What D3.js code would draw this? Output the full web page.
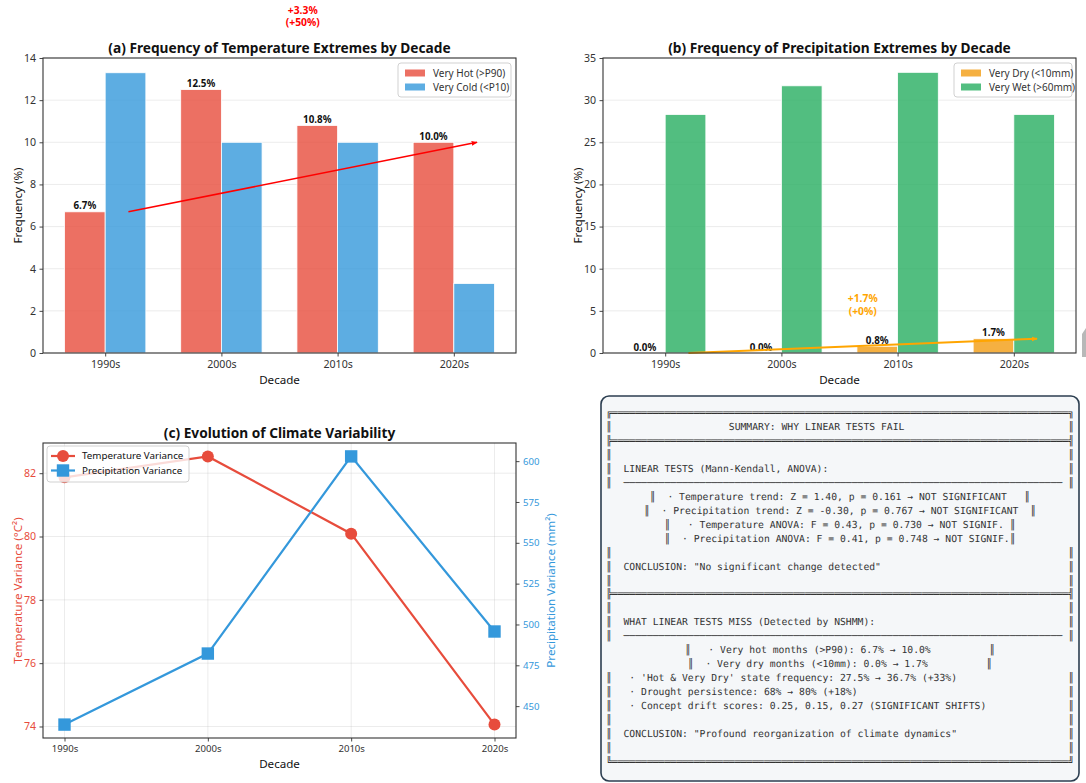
<!DOCTYPE html>
<html>
<head>
<meta charset="utf-8">
<script src="https://cdn.jsdelivr.net/npm/d3@7"></script>
<style>
  body { margin: 0; background: #fff; }
  svg { display: block; -webkit-font-smoothing: antialiased; }
  .mono { white-space: pre; text-rendering: geometricPrecision; }
</style>
</head>
<body>
<svg id="fig" width="1086" height="783"></svg>
<script>
// ---- data ----
const decades = ["1990s", "2000s", "2010s", "2020s"];
const veryHot = [6.7, 12.5, 10.8, 10.0];
const veryCold = [13.3, 10.0, 10.0, 3.3];
const veryDry = [0.0, 0.0, 0.8, 1.7];
const veryWet = [28.3, 31.7, 33.3, 28.3];
const tempVariance = [81.87, 82.53, 80.09, 74.06];
const precipVariance = [438.7, 482.2, 602.9, 495.7];
const tempTicksA = [0, 2, 4, 6, 8, 10, 12, 14];
const precipTicksB = [0, 5, 10, 15, 20, 25, 30, 35];
const tempVarTicks = [74, 76, 78, 80, 82];
const precipVarTicks = [450, 475, 500, 525, 550, 575, 600];
const hotChange = ["+3.3%", "(+50%)"];
const dryChange = ["+1.7%", "(+0%)"];

// ---- summary panel text ----
const W = 78;
const boxRow = s => "║" + s.padEnd(W) + "║";
const rule = (l, r) => l + "═".repeat(W) + r;
const summaryLines = [
  rule("╔", "╗"),
  boxRow(" ".repeat(20) + "SUMMARY: WHY LINEAR TESTS FAIL"),
  rule("╠", "╣"),
  boxRow(""),
  boxRow("  LINEAR TESTS (Mann-Kendall, ANOVA):"),
  boxRow("  " + "─".repeat(75)),
  "║  · Temperature trend: Z = 1.40, p = 0.161 → NOT SIGNIFICANT   ║",
  "║  · Precipitation trend: Z = -0.30, p = 0.767 → NOT SIGNIFICANT  ║",
  "║   · Temperature ANOVA: F = 0.43, p = 0.730 → NOT SIGNIF. ║",
  "║  · Precipitation ANOVA: F = 0.41, p = 0.748 → NOT SIGNIF.║",
  boxRow(""),
  boxRow("  CONCLUSION: \"No significant change detected\""),
  boxRow(""),
  rule("╠", "╣"),
  boxRow(""),
  boxRow("  WHAT LINEAR TESTS MISS (Detected by NSHMM):"),
  boxRow("  " + "─".repeat(75)),
  "║   · Very hot months (>P90): 6.7% → 10.0%          ║",
  "║  · Very dry months (<10mm): 0.0% → 1.7%          ║",
  boxRow("   · 'Hot & Very Dry' state frequency: 27.5% → 36.7% (+33%)"),
  boxRow("   · Drought persistence: 68% → 80% (+18%)"),
  boxRow("   · Concept drift scores: 0.25, 0.15, 0.27 (SIGNIFICANT SHIFTS)"),
  boxRow(""),
  boxRow("  CONCLUSION: \"Profound reorganization of climate dynamics\""),
  boxRow(""),
  rule("╚", "╝")
];

// ---- style ----
const FONT = '"Noto Sans", "DejaVu Sans", sans-serif';
const MONO = '"DejaVu Sans Mono", monospace';
const INK = "#333";
const GRID = "rgba(176,176,176,0.3)";
const RED = "#e74c3c", BLUE = "#3498db", ORANGE = "#f39c12", GREEN = "#27ae60";
const FS = { title: 13.7, label: 11.6, tick: 10.6, legend: 10, value: 9.8, annot: 10.3 };

const fig = d3.select("#fig").attr("font-family", FONT);
const defs = fig.append("defs");
function arrowHead(id, color) {
  defs.append("marker").attr("id", id)
    .attr("viewBox", "0 0 10 10").attr("refX", 9).attr("refY", 5)
    .attr("markerWidth", 6).attr("markerHeight", 6)
    .attr("markerUnits", "userSpaceOnUse")
    .attr("orient", "auto")
    .append("path").attr("d", "M0,1 L10,5 L0,9 Z").attr("fill", color);
}
arrowHead("arrRed", "red");
arrowHead("arrOrange", "orange");

function styleAxis(sel, fs, color) {
  sel.select(".domain").remove();
  sel.selectAll(".tick line").attr("stroke", INK).attr("stroke-width", 0.9);
  sel.selectAll(".tick text").attr("fill", color || INK)
    .attr("font-size", fs).attr("font-family", FONT);
}

function frame(g, l, r, t, b) {
  g.append("rect").attr("x", l).attr("y", t).attr("width", r - l).attr("height", b - t)
    .attr("fill", "none").attr("stroke", INK).attr("stroke-width", 1.1);
}

function patchLegend(g, x0, y0, w, items) {
  const lg = g.append("g");
  lg.append("rect").attr("x", x0).attr("y", y0).attr("width", w).attr("height", 34)
    .attr("rx", 3).attr("fill", "#fff").attr("fill-opacity", 0.8)
    .attr("stroke", "#ccc").attr("stroke-width", 0.9);
  items.forEach((it, i) => {
    const yy = y0 + 10 + i * 14;
    lg.append("rect").attr("x", x0 + 7).attr("y", yy - 3.5).attr("width", 20).attr("height", 7)
      .attr("fill", it.color).attr("fill-opacity", 0.8);
    lg.append("text").attr("x", x0 + 35).attr("y", yy + 3.5)
      .attr("font-size", FS.legend).attr("fill", INK).text(it.label);
  });
}

// ---- grouped bar panels ----
function barPanel(o) {
  const g = fig.append("g");
  const x = d3.scaleLinear().domain([-0.535, 3.535]).range([o.l, o.r]);
  const y = d3.scaleLinear().domain([0, o.yMax]).range([o.b, o.t]);
  const bw = 0.35;

  g.append("g").selectAll("line").data(o.yTicks).join("line")
    .attr("x1", o.l).attr("x2", o.r).attr("y1", d => y(d)).attr("y2", d => y(d))
    .attr("stroke", GRID).attr("stroke-width", 0.8);

  g.append("g").selectAll("rect").data(o.seriesA).join("rect")
    .attr("x", (d, i) => x(i - bw)).attr("width", x(bw) - x(0))
    .attr("y", d => y(d)).attr("height", d => y(0) - y(d))
    .attr("fill", o.colorA).attr("fill-opacity", 0.8)
    .attr("stroke", "#fff").attr("stroke-width", 0.8);
  g.append("g").selectAll("rect").data(o.seriesB).join("rect")
    .attr("x", (d, i) => x(i)).attr("width", x(bw) - x(0))
    .attr("y", d => y(d)).attr("height", d => y(0) - y(d))
    .attr("fill", o.colorB).attr("fill-opacity", 0.8)
    .attr("stroke", "#fff").attr("stroke-width", 0.8);

  g.append("g").selectAll("text").data(o.seriesA).join("text")
    .attr("x", (d, i) => x(i - bw / 2)).attr("y", d => y(d) - 2.5)
    .attr("text-anchor", "middle").attr("font-size", FS.value).attr("font-weight", "bold")
    .attr("fill", "#111").text(d => d.toFixed(1) + "%");

  // trend arrow from first to last decade
  g.append("line")
    .attr("x1", x(0.2)).attr("y1", y(o.seriesA[0]))
    .attr("x2", x(3.2)).attr("y2", y(o.seriesA[3]))
    .attr("stroke", o.arrowColor).attr("stroke-width", o.arrowWidth)
    .attr("marker-end", `url(#${o.arrowId})`);
  const ann = g.append("text").attr("x", x(1.7)).attr("y", y(o.annotY) - 2)
    .attr("text-anchor", "middle").attr("font-size", FS.annot).attr("font-weight", "bold")
    .attr("fill", o.arrowColor);
  ann.append("tspan").attr("x", x(1.7)).text(o.annot[0]);
  ann.append("tspan").attr("x", x(1.7)).attr("dy", 12.5).text(o.annot[1]);

  const ax = g.append("g").attr("transform", `translate(0,${o.b})`)
    .call(d3.axisBottom(x).tickValues([0, 1, 2, 3]).tickFormat(i => decades[i])
      .tickSize(3.5).tickPadding(4));
  styleAxis(ax, FS.tick);
  const ay = g.append("g").attr("transform", `translate(${o.l},0)`)
    .call(d3.axisLeft(y).tickValues(o.yTicks).tickFormat(d3.format("d"))
      .tickSize(3.5).tickPadding(3.5));
  styleAxis(ay, FS.tick);

  frame(g, o.l, o.r, o.t, o.b);

  const mid = (o.l + o.r) / 2;
  g.append("text").attr("x", mid).attr("y", o.t - 5.5).attr("text-anchor", "middle")
    .attr("font-size", FS.title).attr("font-weight", "bold").attr("fill", "#111").text(o.title);
  g.append("text").attr("x", mid).attr("y", o.b + 31).attr("text-anchor", "middle")
    .attr("font-size", FS.label).attr("fill", "#111").text("Decade");
  g.append("text").attr("transform", `translate(${o.l - 21},${(o.t + o.b) / 2}) rotate(-90)`)
    .attr("text-anchor", "middle").attr("font-size", FS.label).attr("fill", "#111")
    .text("Frequency (%)");

  patchLegend(g, o.legendX, o.t + 5, o.legendW, o.legend);
}

barPanel({
  l: 43, r: 516, t: 58, b: 353, yMax: 14, yTicks: tempTicksA,
  seriesA: veryHot, seriesB: veryCold, colorA: RED, colorB: BLUE,
  arrowColor: "red", arrowWidth: 1.6, arrowId: "arrRed",
  annot: hotChange, annotY: 16.0,
  title: "(a) Frequency of Temperature Extremes by Decade",
  legendX: 398, legendW: 113,
  legend: [{ label: "Very Hot (>P90)", color: RED }, { label: "Very Cold (<P10)", color: BLUE }]
});

barPanel({
  l: 603, r: 1076, t: 58, b: 353, yMax: 35, yTicks: precipTicksB,
  seriesA: veryDry, seriesB: veryWet, colorA: ORANGE, colorB: GREEN,
  arrowColor: "orange", arrowWidth: 2, arrowId: "arrOrange",
  annot: dryChange, annotY: 5.8,
  title: "(b) Frequency of Precipitation Extremes by Decade",
  legendX: 954, legendW: 118,
  legend: [{ label: "Very Dry (<10mm)", color: ORANGE }, { label: "Very Wet (>60mm)", color: GREEN }]
});

// ---- panel (c): variance lines on twin axes ----
(function () {
  const l = 43, r = 516, t = 443, b = 738;
  const g = fig.append("g");
  const x = d3.scaleLinear().domain([-0.15, 3.15]).range([l, r]);
  const te = d3.extent(tempVariance), tp = (te[1] - te[0]) * 0.05;
  const pe = d3.extent(precipVariance), pp = (pe[1] - pe[0]) * 0.05;
  const yT = d3.scaleLinear().domain([te[0] - tp, te[1] + tp]).range([b, t]);
  const yP = d3.scaleLinear().domain([pe[0] - pp, pe[1] + pp]).range([b, t]);

  const grid = g.append("g");
  grid.selectAll("line.h").data(tempVarTicks).join("line")
    .attr("x1", l).attr("x2", r).attr("y1", d => yT(d)).attr("y2", d => yT(d))
    .attr("stroke", GRID).attr("stroke-width", 0.8);
  grid.selectAll("line.v").data([0, 1, 2, 3]).join("line")
    .attr("y1", t).attr("y2", b).attr("x1", d => x(d)).attr("x2", d => x(d))
    .attr("stroke", GRID).attr("stroke-width", 0.8);

  const tempLine = d3.line().x((d, i) => x(i)).y(d => yT(d));
  const precLine = d3.line().x((d, i) => x(i)).y(d => yP(d));

  g.append("path").datum(tempVariance).attr("d", tempLine)
    .attr("fill", "none").attr("stroke", RED).attr("stroke-width", 2.2);
  g.append("g").selectAll("circle").data(tempVariance).join("circle")
    .attr("cx", (d, i) => x(i)).attr("cy", d => yT(d)).attr("r", 6).attr("fill", RED);

  g.append("path").datum(precipVariance).attr("d", precLine)
    .attr("fill", "none").attr("stroke", BLUE).attr("stroke-width", 2.2);
  g.append("g").selectAll("rect").data(precipVariance).join("rect")
    .attr("x", (d, i) => x(i) - 6.2).attr("y", d => yP(d) - 6.2)
    .attr("width", 12.4).attr("height", 12.4).attr("fill", BLUE);

  const ax = g.append("g").attr("transform", `translate(0,${b})`)
    .call(d3.axisBottom(x).tickValues([0, 1, 2, 3]).tickFormat(i => decades[i])
      .tickSize(3.5).tickPadding(4));
  styleAxis(ax, 9.6);
  const ayl = g.append("g").attr("transform", `translate(${l},0)`)
    .call(d3.axisLeft(yT).tickValues(tempVarTicks).tickFormat(d3.format("d"))
      .tickSize(3.5).tickPadding(3.5));
  styleAxis(ayl, FS.tick, RED);
  const ayr = g.append("g").attr("transform", `translate(${r},0)`)
    .call(d3.axisRight(yP).tickValues(precipVarTicks).tickFormat(d3.format("d"))
      .tickSize(3.5).tickPadding(3.5));
  styleAxis(ayr, 9.6, BLUE);

  frame(g, l, r, t, b);

  const mid = (l + r) / 2;
  g.append("text").attr("x", mid).attr("y", t - 5.5).attr("text-anchor", "middle")
    .attr("font-size", FS.title).attr("font-weight", "bold").attr("fill", "#111")
    .text("(c) Evolution of Climate Variability");
  g.append("text").attr("x", mid).attr("y", b + 30).attr("text-anchor", "middle")
    .attr("font-size", FS.label).attr("fill", "#111").text("Decade");
  g.append("text").attr("transform", `translate(${l - 21},${(t + b) / 2}) rotate(-90)`)
    .attr("text-anchor", "middle").attr("font-size", FS.label).attr("fill", RED)
    .text("Temperature Variance (°C²)");
  g.append("text").attr("transform", `translate(${r + 39},${(t + b) / 2}) rotate(-90)`)
    .attr("text-anchor", "middle").attr("font-size", FS.label).attr("fill", BLUE)
    .text("Precipitation Variance (mm²)");

  // legend
  const lg = g.append("g");
  lg.append("rect").attr("x", 47).attr("y", 446).attr("width", 142).attr("height", 36)
    .attr("rx", 3).attr("fill", "#fff").attr("fill-opacity", 0.8)
    .attr("stroke", "#ccc").attr("stroke-width", 0.9);
  const items = [
    { label: "Temperature Variance", color: RED, shape: "circle" },
    { label: "Precipitation Variance", color: BLUE, shape: "square" }
  ];
  items.forEach((it, i) => {
    const yy = 456 + i * 14.5;
    lg.append("line").attr("x1", 51).attr("x2", 75).attr("y1", yy).attr("y2", yy)
      .attr("stroke", it.color).attr("stroke-width", 2.2);
    if (it.shape === "circle") {
      lg.append("circle").attr("cx", 63).attr("cy", yy).attr("r", 6).attr("fill", it.color);
    } else {
      lg.append("rect").attr("x", 56.8).attr("y", yy - 6.2).attr("width", 12.4).attr("height", 12.4)
        .attr("fill", it.color);
    }
    lg.append("text").attr("x", 82).attr("y", yy + 3.4).attr("font-size", 9.8)
      .attr("fill", "#111").text(it.label);
  });
})();

// ---- panel (d): text summary ----
(function () {
  const g = fig.append("g");
  g.append("rect").attr("x", 601).attr("y", 396).attr("width", 478).attr("height", 385)
    .attr("rx", 8).attr("fill", "#f5f7f9").attr("stroke", "#2c3e50").attr("stroke-width", 1.6);
  const txt = g.append("text").attr("class", "mono").attr("xml:space", "preserve")
    .attr("font-family", MONO).attr("font-size", 9.72).attr("fill", "#333")
    .attr("text-anchor", "middle");
  txt.selectAll("tspan").data(summaryLines).join("tspan")
    .attr("x", 840).attr("y", (d, i) => 416 + i * 13.96).text(d => d);
})();

// clipped neighbour shape at the right edge
fig.append("path").attr("d", "M1082,334 L1086,328 L1086,357 L1082,357 Z").attr("fill", "#b8b8b8");
</script>
</body>
</html>
